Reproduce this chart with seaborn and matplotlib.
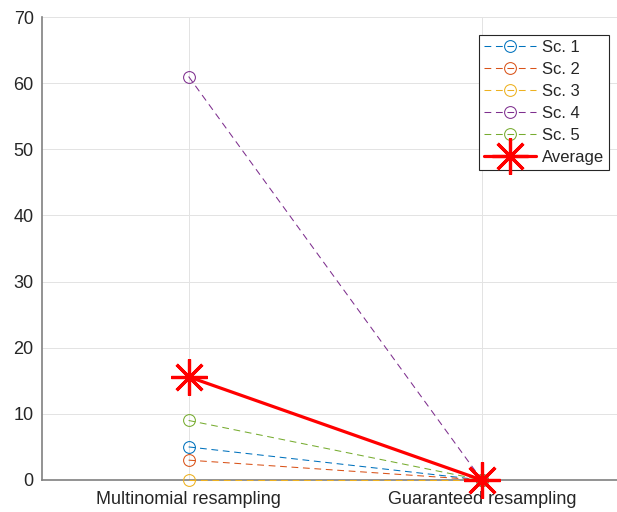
import numpy as np
import pandas as pd
import matplotlib
matplotlib.use("Agg")
import matplotlib.pyplot as plt
import seaborn as sns

categories = ["Multinomial resampling", "Guaranteed resampling"]
sc1 = [5, 0]
sc2 = [3, 0]
sc3 = [0, 0]
sc4 = [61, 0]
sc5 = [9, 0]
series_names = ["Sc. 1", "Sc. 2", "Sc. 3", "Sc. 4", "Sc. 5"]
series_values = [sc1, sc2, sc3, sc4, sc5]
average = [15.6, 0]
yticks = [0, 10, 20, 30, 40, 50, 60, 70]

colors = ["#0072BD", "#D95319", "#EDB120", "#7E2F8E", "#77AC30"]

sns.set_theme(style="white")
plt.rcParams["font.family"] = ["Liberation Sans", "DejaVu Sans"]

fig = plt.figure(figsize=(6.17, 5.12), dpi=100)
ax = fig.add_axes([42/617, 32/512, (628.5-42)/617, 463/512])

xpos = [1, 2]
for name, vals, c in zip(series_names, series_values, colors):
    df = pd.DataFrame({"x": xpos, "y": vals})
    sns.lineplot(data=df, x="x", y="y", ax=ax, color=c, lw=0.75,
                 dashes=False, linestyle=(0, (6.5, 4.5)), marker="o",
                 markersize=8.5, markerfacecolor="none", markeredgecolor=c,
                 markeredgewidth=0.75, label=name, sort=False, errorbar=None,
                 clip_on=False, zorder=3)

dfa = pd.DataFrame({"x": xpos, "y": average})
sns.lineplot(data=dfa, x="x", y="y", ax=ax, color="#FF0000", lw=2.3,
             marker=(8, 2, 0), markersize=26, markeredgewidth=2.3,
             markeredgecolor="#FF0000", label="Average", sort=False,
             errorbar=None, clip_on=False, zorder=4)

ax.set_xlim(0.5, 2.5)
ax.set_ylim(0, 70)
ax.set_xticks(xpos)
ax.set_xticklabels(categories)
ax.set_yticks(yticks)
ax.set_xlabel("")
ax.set_ylabel("")

ax.grid(True, color="#e3e3e3", lw=0.7)
ax.set_axisbelow(True)
for s in ["top", "right"]:
    ax.spines[s].set_visible(False)
for s in ["left", "bottom"]:
    ax.spines[s].set_color("#808080")
    ax.spines[s].set_linewidth(1.2)
    ax.spines[s].set_zorder(2)
ax.tick_params(axis="both", direction="in", length=4, width=0.8,
               colors="#262626", labelsize=13, pad=6, labelcolor="#262626")
ax.tick_params(axis="x", pad=8)

leg = ax.legend(loc="upper right", bbox_to_anchor=(609/617, 1-35/512),
                bbox_transform=fig.transFigure, fontsize=12, frameon=True,
                fancybox=False, edgecolor="#262626", framealpha=1,
                handlelength=3.1, handletextpad=0.35, labelspacing=0.42,
                borderpad=0.3, borderaxespad=0)
leg.get_frame().set_linewidth(0.8)

fig.savefig("out.png", dpi=100)
